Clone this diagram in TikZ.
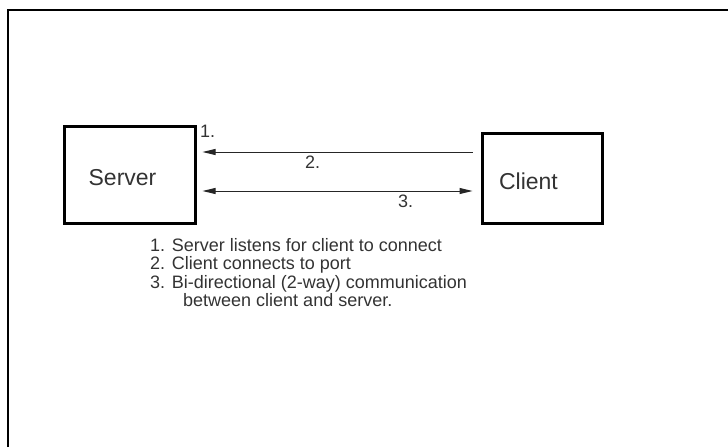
\documentclass[tikz,border=0pt]{standalone}
\usepackage{fontspec}
\setmainfont{Liberation Sans}
\usetikzlibrary{arrows.meta}
\begin{document}
\begin{tikzpicture}[x=1pt,y=-1pt,
  arr/.tip={Triangle[length=13pt,width=6pt]},
  boxstyle/.style={draw=black,line width=3pt,inner sep=0pt,minimum width=#1},
  lbl/.style={inner sep=0pt,text=black!80,font=\fontsize{18}{18}\selectfont},
  boxlbl/.style={inner sep=0pt,text=black!80,font=\fontsize{23}{23}\selectfont},
  conn/.style={line width=1pt,black!85}]
\useasboundingbox (0,0) rectangle (728,447);
% frame
\coordinate (fa) at (8,447);
\coordinate (fb) at (8,9.5);
\coordinate (fc) at (728,9.5);
\draw[line width=2pt] (fa) -- (fb) -- (fc);
% boxes
\node[boxstyle=131pt,minimum height=97pt] (server) at (129.5,174.5) {};
\node[boxstyle=120pt,minimum height=90pt] (client) at (542,178) {};
\node[boxlbl,anchor=base] (servertxt) at (122.5,185) {Server};
\node[boxlbl,anchor=base] (clienttxt) at (528.5,189) {Client};
% connectors
\draw[conn,-arr,shorten >=6pt,shorten <=8pt] (client.west |- 0,152) -- (server.east |- 0,152);
\draw[conn,arr-arr,shorten >=8pt,shorten <=6pt] (server.east |- 0,191) -- (client.west |- 0,191);
% labels
\node[lbl,anchor=base west] (l1) at (200,137) {1.};
\node[lbl,anchor=base west] (l2) at (305,168) {2.};
\node[lbl,anchor=base west] (l3) at (398,207) {3.};
% legend
\node[lbl,anchor=base west] (t1) at (150,251) {1. Server listens for client to connect};
\node[lbl,anchor=base west] (t2) at (150,269.5) {2. Client connects to port};
\node[lbl,anchor=base west] (t3) at (150,288) {3. Bi-directional (2-way) communication};
\node[lbl,anchor=base west] (t4) at (183,306.5) {between client and server.};
\end{tikzpicture}
\end{document}
